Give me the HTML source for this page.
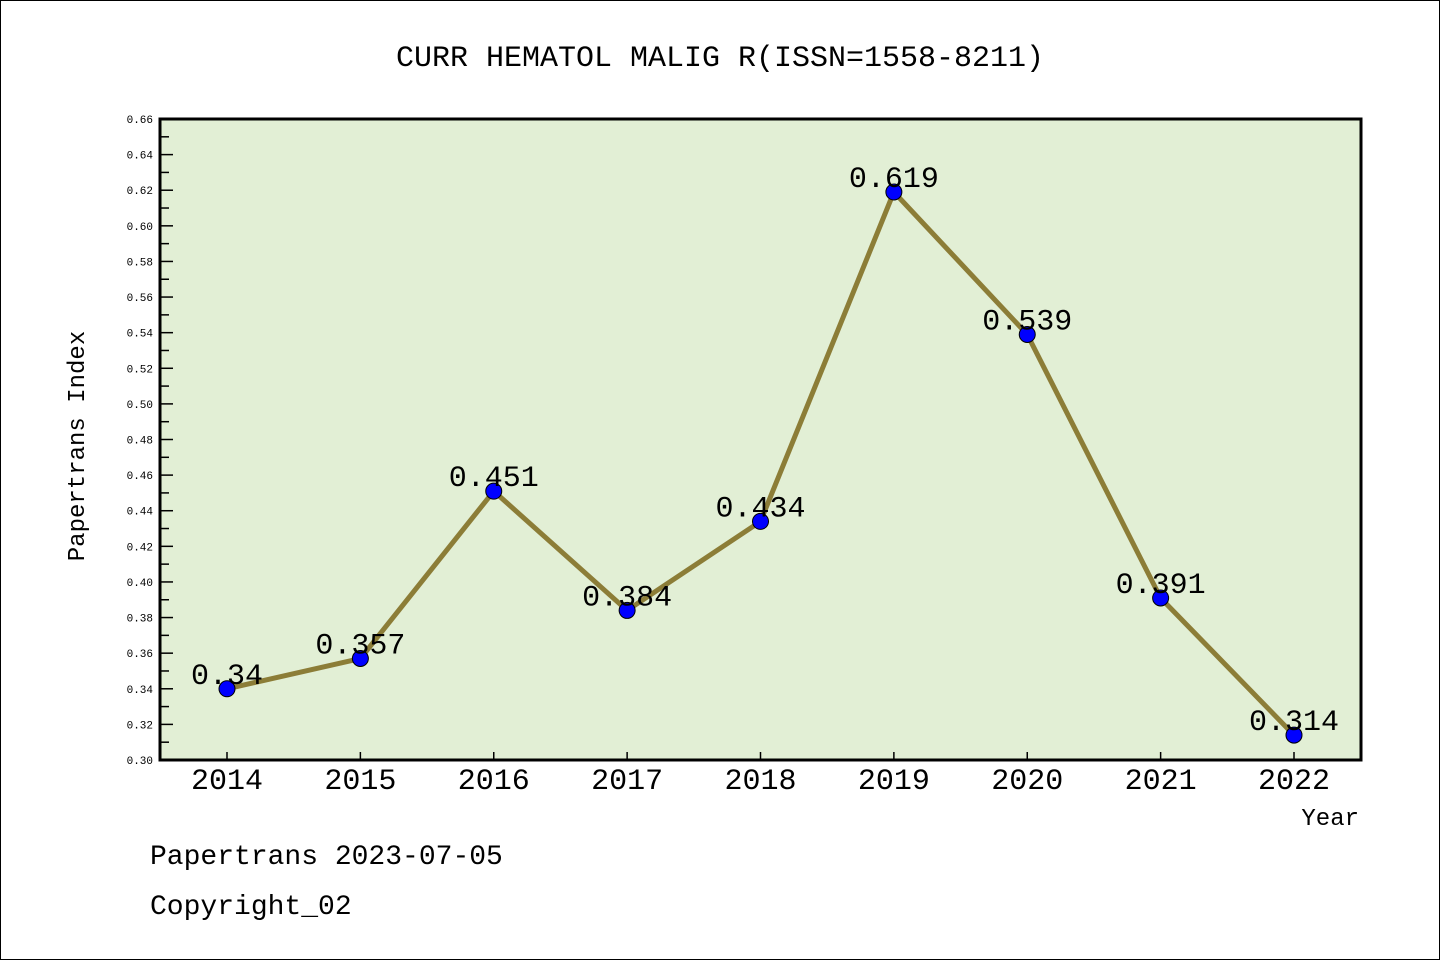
<!DOCTYPE html>
<html><head><meta charset="utf-8"><style>
html,body{margin:0;padding:0;background:#fff}
svg{display:block}
text{font-family:"Liberation Mono","WenQuanYi Zen Hei",monospace}
</style></head><body>
<svg id="chart" width="1440" height="960" xmlns="http://www.w3.org/2000/svg">
<rect x="0.5" y="0.5" width="1439" height="959" fill="#fff" stroke="#000"/>
<text x="720" y="66" text-anchor="middle" font-size="30">CURR HEMATOL MALIG R(ISSN=1558-8211)</text>
<rect x="160" y="119" width="1201" height="641" fill="#e2efd5"/>
<g id="ticks"></g>
<g id="series"></g>
<rect x="160" y="119" width="1201" height="641" fill="none" stroke="#000" stroke-width="3"/>
<text transform="translate(84,446) rotate(-90)" text-anchor="middle" font-size="24">Papertrans Index</text>
<text x="1359" y="825" text-anchor="end" font-size="24">Year</text>
<text x="150" y="864" font-size="28">Papertrans 2023-07-05</text>
<text x="150" y="914" font-size="28">Copyright_02</text>
</svg>
<script>
const years=["2014","2015","2016","2017","2018","2019","2020","2021","2022"];
const values=[0.34,0.357,0.451,0.384,0.434,0.619,0.539,0.391,0.314];
const valueLabels=["0.34","0.357","0.451","0.384","0.434","0.619","0.539","0.391","0.314"];
const yTicks=["0.30","0.32","0.34","0.36","0.38","0.40","0.42","0.44","0.46","0.48","0.50","0.52","0.54","0.56","0.58","0.60","0.62","0.64","0.66"];
const yMin=0.30,yMax=0.66;
const NS="http://www.w3.org/2000/svg";
function y(v){return 760-(v-yMin)/(yMax-yMin)*641;}
function x(i){return 227+i*(1294-227)/(years.length-1);}
function mk(t,a,p){const e=document.createElementNS(NS,t);for(const k in a)e.setAttribute(k,a[k]);p.appendChild(e);return e;}
const tg=document.getElementById('ticks'),sg=document.getElementById('series');
yTicks.forEach((t,i)=>{
 const v=parseFloat(t),yy=y(v);
 const l=mk('line',{x1:160,x2:173,y1:yy,y2:yy,stroke:'#000','stroke-width':1.5},tg);
 
 
 const tx=mk('text',{x:153,y:yy+4,'text-anchor':'end','font-size':11,'font-family':'Liberation Sans, sans-serif'},tg);
 tx.textContent=t;
 
 
 if(i<yTicks.length-1){
  const ym=y(v+0.01);
  const m=mk('line',{x1:160,x2:169,y1:ym,y2:ym,stroke:'#000','stroke-width':1.5},tg);
  
  
 }
});
years.forEach((yr,i)=>{
 const t=mk('line',{x1:x(i),x2:x(i),y1:752,y2:760,stroke:'#000','stroke-width':1.5},tg);
 
 
 const tx=mk('text',{x:x(i),y:789,'text-anchor':'middle','font-size':30,'font-family':'Liberation Sans, sans-serif'},tg);
 tx.textContent=yr;
 
 
});
const pl=mk('polyline',{points:values.map((v,i)=>x(i)+','+y(v)).join(' '),fill:'none',stroke:'#8c7d37','stroke-width':5,'stroke-linejoin':'round'},sg);


values.forEach((v,i)=>{
 const c=mk('circle',{cx:x(i),cy:y(v),r:8,fill:'#0000ff',stroke:'#000','stroke-width':1},sg);
 
 
 const t=mk('text',{x:x(i),y:y(v)-5,'text-anchor':'middle','font-size':30},sg);
 t.textContent=valueLabels[i];
 
 
});
</script>
</body></html>
